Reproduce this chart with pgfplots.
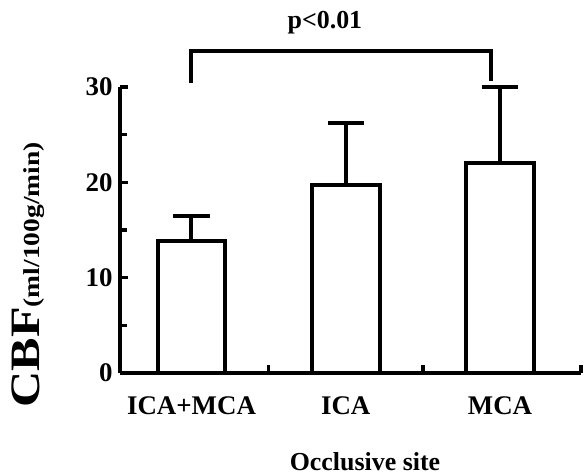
\documentclass[border=0pt]{standalone}
\usepackage{fontspec}
\setmainfont{Liberation Serif}
\usepackage{graphicx}
\usepackage{pgfplots}
\pgfplotsset{compat=1.18}
\begin{document}
\begin{tikzpicture}
\useasboundingbox (0,0) rectangle (587bp,475bp);
\begin{axis}[
  at={(120bp,102bp)}, anchor=south west,
  scale only axis, width=461bp, height=286bp,
  xmin=-0.4635, xmax=2.525, ymin=0, ymax=30,
  axis x line=bottom, axis y line=left,
  axis line style={-, line width=4bp},
  clip=false,
  ytick={0,10,20,30}, minor ytick={5,15,25},
  xtick={0.5,1.5,2.525}, xticklabels={},
  extra x ticks={0,1,2}, extra x tick labels={ICA+MCA,ICA,MCA},
  extra x tick style={tick style={draw=none}, xticklabel style={anchor=base, yshift=-41bp}},
  tick align=inside,
  major tick length=8bp, minor tick length=7bp,
  tick style={line width=3.5bp, black},
  /pgf/number format/assume math mode=true,
  every tick label/.append style={font=\fontsize{27}{30}\selectfont\bfseries},
  yticklabel style={xshift=-4bp},
]
\addplot[ybar, bar width=0.44, fill=white, draw=black, line width=4bp,
  error bars/.cd, y dir=plus, y explicit,
  error bar style={line width=4bp, black},
  error mark options={rotate=90, line width=4bp, mark size=18bp, black}]
  coordinates {(0,13.8) +- (0,2.7) (1,19.7) +- (0,6.5) (2,22.0) +- (0,8.05)};
\addplot[line width=4bp, black, mark=none]
  coordinates {(0,30.4) (0,33.8) (1.94,33.8) (1.94,30.6)};
\node[font=\fontsize{26}{30}\selectfont\bfseries, anchor=base] at (axis cs:0.865,36.15) {p<0.01};
\node[rotate=90, anchor=base] at ([xshift=-80bp,yshift=98bp]rel axis cs:0,0)
  {\scalebox{1.2}[1]{\fontsize{42}{48}\selectfont\bfseries CBF\fontsize{23}{26}\selectfont(ml/100g/min)}};
\node[anchor=base, font=\fontsize{26}{30}\selectfont\bfseries] at ([xshift=245bp,yshift=-97bp]rel axis cs:0,0) {Occlusive site};
\end{axis}
\end{tikzpicture}
\end{document}
